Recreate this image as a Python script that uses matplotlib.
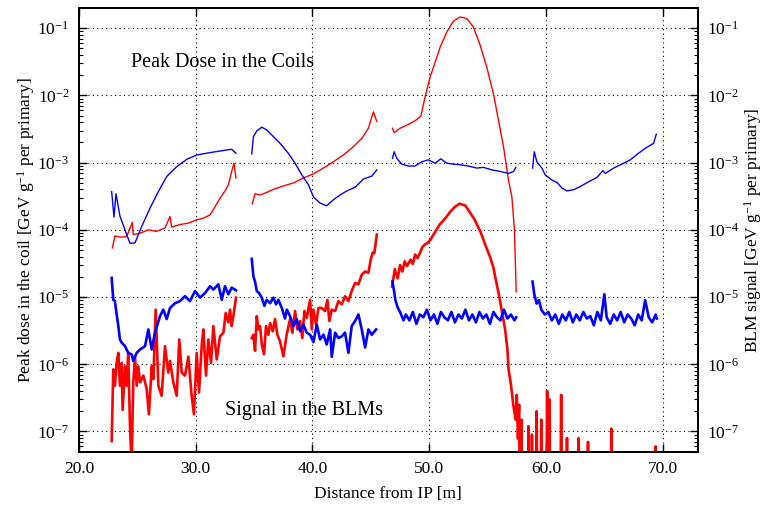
import numpy as np
import matplotlib
matplotlib.use("Agg")
import matplotlib.pyplot as plt
from matplotlib.ticker import LogLocator, FormatStrFormatter

plt.rcParams['font.family'] = 'serif'
plt.rcParams['font.serif'] = ['Liberation Serif', 'DejaVu Serif']
plt.rcParams['mathtext.fontset'] = 'custom'
plt.rcParams['mathtext.rm'] = 'Liberation Serif'
plt.rcParams['mathtext.it'] = 'Liberation Serif:italic'

nan = np.nan

# peak dose in the coils (thin lines), segments split by nan
coil_blue_x = [22.80, 23.00, 23.17, 23.51, 23.94, 24.37, 24.80, 25.37, 26.08, 26.80, 27.51, 28.37, 29.23, 30.09, 31.23, 32.08, 33.08, 33.45, nan,
               34.80, 34.94, 35.23, 35.66, 36.08, 36.65, 37.22, 37.93, 38.51, 39.08, 39.65, 40.08, 40.65, 41.22, 41.79, 42.37, 42.94, 43.65, 44.36, 45.08, 45.51, nan,
               46.85, 47.00, 47.22, 47.65, 48.22, 48.79, 49.36, 49.93, 50.51, 50.99, 51.51, 52.08, 52.65, 53.36, 54.08, 54.65, 55.36, 56.08, 56.79, 57.22, 57.42, nan,
               58.85, 59.00, 59.22, 59.65, 59.93, 60.51, 60.99, 61.36, 61.79, 62.36, 62.93, 63.65, 64.36, 64.88, 65.08, 65.79, 66.50, 67.22, 67.93, 68.50, 69.22, 69.45]
coil_blue_y = [3.7e-4, 1.55e-4, 3.45e-4, 1.6e-4, 1.0e-4, 6.3e-5, 6.4e-5, 1.12e-4, 2.1e-4, 3.7e-4, 6.2e-4, 8.7e-4, 1.12e-3, 1.3e-3, 1.41e-3, 1.49e-3, 1.58e-3, 1.38e-3, nan,
               1.35e-3, 2.44e-3, 2.97e-3, 3.37e-3, 3.07e-3, 2.44e-3, 1.94e-3, 1.38e-3, 9.8e-4, 6.6e-4, 4.7e-4, 3.1e-4, 2.5e-4, 2.28e-4, 2.8e-4, 3.3e-4, 3.8e-4, 4.3e-4, 5.7e-4, 6.3e-4, 7.8e-4, nan,
               1.16e-3, 1.45e-3, 1.16e-3, 9.5e-4, 8.9e-4, 8.9e-4, 1.03e-3, 1.1e-3, 9.8e-4, 1.14e-3, 9.8e-4, 9.5e-4, 9.3e-4, 8.9e-4, 8.3e-4, 8.5e-4, 7.8e-4, 7.4e-4, 6.9e-4, 7.4e-4, 8.5e-4, nan,
               8.3e-4, 1.45e-3, 1.03e-3, 8.3e-4, 6.6e-4, 5.5e-4, 5.0e-4, 4.2e-4, 3.8e-4, 3.95e-4, 4.4e-4, 5.2e-4, 6.0e-4, 7.6e-4, 6.9e-4, 8.3e-4, 9.5e-4, 1.1e-3, 1.38e-3, 1.63e-3, 1.94e-3, 2.65e-3]

coil_red_x = [22.86, 23.08, 23.51, 24.08, 24.57, 24.65, 25.23, 25.94, 26.66, 27.37, 27.80, 27.94, 28.65, 29.37, 30.09, 30.65, 31.23, 31.65, 32.08, 32.51, 32.80, 33.08, 33.28, 33.45, nan,
              34.85, 35.08, 35.51, 36.08, 36.65, 37.51, 38.37, 39.22, 40.08, 40.94, 41.79, 42.65, 43.51, 44.23, 44.79, 45.22, 45.51, nan,
              46.85, 47.00, 47.51, 48.22, 48.79, 49.28, 49.65, 50.08, 50.36, 50.93, 51.51, 52.08, 52.65, 53.22, 53.79, 54.36, 54.94, 55.50, 55.93, 56.36, 56.79, 57.08, 57.30, 57.45]
coil_red_y = [5.4e-5, 8.1e-5, 7.8e-5, 7.9e-5, 1.29e-4, 8.5e-5, 8.9e-5, 1.0e-4, 9.5e-5, 1.07e-4, 1.58e-4, 1.1e-4, 1.2e-4, 1.26e-4, 1.41e-4, 1.49e-4, 1.67e-4, 2.2e-4, 2.95e-4, 3.8e-4, 4.7e-4, 7.4e-4, 9.8e-4, 5.9e-4, nan,
              2.45e-4, 3.45e-4, 3.3e-4, 3.6e-4, 4.0e-4, 4.5e-4, 5.0e-4, 5.9e-4, 6.8e-4, 8.3e-4, 1.03e-3, 1.3e-3, 1.73e-3, 2.3e-3, 3.25e-3, 5.7e-3, 4.1e-3, nan,
              3.25e-3, 2.8e-3, 3.25e-3, 3.7e-3, 4.2e-3, 4.9e-3, 9.5e-3, 0.019, 0.026, 0.052, 0.088, 0.128, 0.147, 0.139, 0.104, 0.056, 0.026, 0.0106, 4.3e-3, 1.73e-3, 5.5e-4, 3.1e-4, 1.0e-4, 1.2e-5]

# signal in the BLMs (thick lines)
blm_blue_x = [22.80, 22.94, 23.08, 23.23, 23.37, 23.51, 23.66, 23.94, 24.22, 24.51, 24.65, 24.94, 25.23, 25.66, 25.94, 26.23, 26.51, 26.94, 27.22, 27.51, 27.80, 28.23, 28.65, 29.08, 29.51, 29.94, 30.37, 30.80, 31.23, 31.51, 31.94, 32.23, 32.51, 32.79, 33.08, 33.45, nan,
              34.80, 34.94, 35.08, 35.23, 35.42, 35.66, 35.88, 36.08, 36.37, 36.65, 36.88, 37.08, 37.37, 37.65, 37.80, 38.08, 38.37, 38.65, 38.94, 39.22, 39.51, 39.80, 40.08, 40.37, 40.65, 40.94, 41.22, 41.51, 41.65, 41.94, 42.22, 42.51, 42.79, 43.08, 43.36, 43.65, 43.94, 44.22, 44.51, 44.79, 45.08, 45.45, nan,
              46.85, 47.0, 47.1, 47.3, 47.5, 47.8, 48.0, 48.3, 48.6, 48.9, 49.2, 49.5, 49.8, 50.1, 50.4, 50.7, 51.0, 51.3, 51.6, 51.9, 52.2, 52.5, 52.8, 53.1, 53.4, 53.7, 54.0, 54.3, 54.6, 54.9, 55.2, 55.5, 55.8, 56.1, 56.4, 56.7, 57.0, 57.3, 57.45, nan,
              58.85, 59.0, 59.2, 59.4, 59.6, 59.9, 60.2, 60.5, 60.8, 61.1, 61.4, 61.7, 62.0, 62.3, 62.6, 62.9, 63.2, 63.5, 63.8, 64.1, 64.4, 64.7, 65.0, 65.2, 65.5, 65.8, 66.1, 66.4, 66.7, 67.0, 67.3, 67.6, 67.9, 68.2, 68.5, 68.8, 69.1, 69.4, 69.5]
blm_blue_y = [1.93e-5, 9.1e-6, 8.7e-6, 5.5e-6, 3.7e-6, 2.34e-6, 2.1e-6, 1.86e-6, 1.48e-6, 1.4e-6, 1.12e-6, 1.48e-6, 1.66e-6, 1.86e-6, 3.3e-6, 1.66e-6, 2.95e-6, 5.2e-6, 6.5e-6, 4.7e-6, 6.9e-6, 8.1e-6, 8.7e-6, 1.03e-5, 8.7e-6, 1.23e-5, 9.8e-6, 1.15e-5, 1.45e-5, 1.29e-5, 1.55e-5, 9.1e-6, 1.45e-5, 1.1e-5, 1.38e-5, 1.26e-5, nan,
              3.7e-5, 2.04e-5, 1.7e-5, 1.23e-5, 1.15e-5, 9.8e-6, 7.4e-6, 9.1e-6, 8.1e-6, 9.8e-6, 7.8e-6, 9.1e-6, 6.9e-6, 4.8e-6, 6.5e-6, 5.2e-6, 3.7e-6, 4.7e-6, 3.1e-6, 3.9e-6, 2.95e-6, 2.75e-6, 2.14e-6, 3.9e-6, 2.34e-6, 2.75e-6, 1.97e-6, 3.3e-6, 1.29e-6, 2.95e-6, 2.45e-6, 2.6e-6, 2.95e-6, 1.48e-6, 3.7e-6, 4.4e-6, 5.5e-6, 3.3e-6, 1.78e-6, 3.3e-6, 2.75e-6, 3.3e-6, nan,
              1.7e-5, 1.2e-5, 9e-6, 7e-6, 6e-6, 4.5e-6, 5.5e-6, 4.5e-6, 6e-6, 4e-6, 5.5e-6, 5e-6, 6.5e-6, 4.5e-6, 5.5e-6, 4e-6, 6e-6, 5e-6, 4.5e-6, 6e-6, 4.2e-6, 5.5e-6, 4.8e-6, 6.5e-6, 4.5e-6, 5.5e-6, 4.2e-6, 6e-6, 4.8e-6, 5.5e-6, 4e-6, 6e-6, 5e-6, 4.5e-6, 6.5e-6, 4.8e-6, 5.5e-6, 4.5e-6, 5e-6, nan,
              1.7e-5, 1.1e-5, 8e-6, 9e-6, 6.5e-6, 5.5e-6, 6e-6, 4.5e-6, 5.5e-6, 4e-6, 5.5e-6, 4.5e-6, 6e-6, 4.2e-6, 5.5e-6, 4.5e-6, 6e-6, 4.8e-6, 5.2e-6, 3.8e-6, 6e-6, 4.5e-6, 1.1e-5, 5e-6, 4e-6, 5.5e-6, 4.5e-6, 6e-6, 4.2e-6, 5.5e-6, 4.8e-6, 3.8e-6, 5.5e-6, 4.5e-6, 9e-6, 5e-6, 4.2e-6, 5.5e-6, 4.8e-6]

blm_red_x = [22.80, 22.94, 23.08, 23.23, 23.37, 23.51, 23.66, 23.74, 23.94, 24.08, 24.22, 24.37, 24.51, 24.65, 24.80, 24.94, 25.08, 25.23, 25.51, 25.80, 25.99, 26.23, 26.37, 26.57, 26.80, 27.08, 27.37, 27.65, 27.80, 28.08, 28.37, 28.59, 28.80, 29.08, 29.37, 29.65, 29.85, 30.08, 30.28, 30.51, 30.65, 30.88, 31.08, 31.31, 31.51, 31.80, 32.08, 32.37, 32.57, 32.80, 32.94, 33.08, 33.22, 33.45, nan,
             34.80, 34.94, 35.08, 35.23, 35.37, 35.51, 35.66, 35.85, 36.02, 36.22, 36.37, 36.60, 36.80, 36.99, 37.22, 37.51, 37.79, 38.08, 38.28, 38.51, 38.71, 38.94, 39.13, 39.31, 39.51, 39.80, 39.94, 40.08, 40.31, 40.51, 40.79, 41.08, 41.28, 41.45, 41.65, 41.94, 42.22, 42.51, 42.79, 43.08, 43.36, 43.65, 43.94, 44.22, 44.51, 44.79, 44.99, 45.16, 45.30, 45.51, nan,
             46.82, 47.05, 47.3, 47.5, 47.7, 47.9, 48.1, 48.4, 48.6, 48.8, 49.0, 49.2, 49.4, 49.6, 49.9, 50.1, 50.5, 50.9, 51.4, 51.8, 52.2, 52.6, 53.1, 53.5, 53.9, 54.4, 54.8, 55.2, 55.5, 55.7, 56.0, 56.2, 56.5, 56.7, 56.8, 57.0, 57.2, 57.4, 57.5, 57.6, 57.7, 57.8, 57.9, 58.0,
             58.4, 58.5, 58.6, 58.7, 58.8, 58.9, 59.1, 59.2, 59.3, 59.5, 59.6, 59.7, 60.0, 60.1, 60.2, 60.3, 60.4, 61.2, 61.3, 61.4, 61.7, 61.8, 61.9, 62.7, 62.8, 62.9, 63.5, 63.6, 63.7, 65.5, 65.6, 65.7, 69.3, 69.4, 69.5]
blm_red_y = [7.2e-8, 8.4e-7, 4.8e-7, 1.05e-6, 1.48e-6, 4.8e-7, 1.05e-6, 2.1e-7, 9.3e-7, 4.8e-7, 1.48e-6, 1.2e-7, 3e-8, 5.4e-7, 1.3e-6, 4.8e-7, 9.3e-7, 5.4e-7, 6.8e-7, 4.3e-7, 1.8e-7, 9.3e-7, 6e-7, 6.5e-6, 4.8e-7, 3.4e-7, 1.86e-6, 7.5e-7, 1.12e-6, 5.4e-7, 3.4e-7, 2.34e-6, 7.5e-7, 6.8e-7, 1.3e-6, 3.4e-7, 1.8e-7, 1.48e-6, 3.8e-7, 1.86e-6, 3.3e-6, 6.8e-7, 2.34e-6, 1.05e-6, 3.7e-6, 1.18e-6, 2.6e-6, 2.95e-6, 5.8e-6, 4.2e-6, 6.5e-6, 3.7e-6, 5.2e-6, 9.8e-6, nan,
             2.45e-6, 2.75e-6, 1.59e-6, 5.2e-6, 3.3e-6, 3.7e-6, 1.97e-6, 1.41e-6, 3.7e-6, 2.75e-6, 4.1e-6, 3.1e-6, 4.7e-6, 2.75e-6, 2.2e-6, 1.31e-6, 2.75e-6, 4.7e-6, 2.95e-6, 6.2e-6, 3.3e-6, 4.4e-6, 2.45e-6, 6.2e-6, 4.9e-6, 9.1e-6, 3.3e-6, 6.5e-6, 3.9e-6, 6.9e-6, 6.9e-6, 6.2e-6, 9.1e-6, 4.4e-6, 6.5e-6, 6.2e-6, 8.7e-6, 7.8e-6, 1.03e-5, 8.7e-6, 1.23e-5, 1.62e-5, 1.55e-5, 2.15e-5, 2.4e-5, 2.3e-5, 3.6e-5, 4.6e-5, 4.5e-5, 8.5e-5, nan,
             1.43e-5, 2.6e-5, 1.9e-5, 3.0e-5, 2.4e-5, 3.4e-5, 2.9e-5, 3.6e-5, 3.1e-5, 4.3e-5, 3.8e-5, 4.5e-5, 5.5e-5, 6.0e-5, 6.5e-5, 7.1e-5, 9.3e-5, 1.2e-4, 1.5e-4, 1.86e-4, 2.2e-4, 2.45e-4, 2.3e-4, 1.8e-4, 1.41e-4, 9.3e-5, 6.0e-5, 4.0e-5, 2.75e-5, 1.82e-5, 1.02e-5, 6.5e-6, 3.3e-6, 1.66e-6, 8.3e-7, 5.0e-7, 2.5e-7, 1.5e-7, 3.5e-7, 7.8e-8, 2.5e-7, 1e-9, 1.5e-7, 1e-9,
             1e-9, 1.2e-7, 1e-9, 1e-9, 9e-8, 1e-9, 1e-9, 2e-7, 1e-9, 1e-9, 1.5e-7, 1e-9, 1e-9, 4e-7, 1e-9, 3e-7, 1e-9, 1e-9, 3.5e-7, 1e-9, 1e-9, 8e-8, 1e-9, 1e-9, 8e-8, 1e-9, 1e-9, 7e-8, 1e-9, 1e-9, 1.1e-7, 1e-9, 1e-9, 6e-8, 1e-9]

x_ticks = [20, 30, 40, 50, 60, 70]
y_ticks = [1e-7, 1e-6, 1e-5, 1e-4, 1e-3, 1e-2, 1e-1]

fig = plt.figure(figsize=(7.72, 5.05), dpi=100)
ax = fig.add_axes([0.1023, 0.1055, 0.8015, 0.8787])

ax.plot(coil_red_x, coil_red_y, color='#ff0000', lw=1.0)
ax.plot(coil_blue_x, coil_blue_y, color='#0000ff', lw=1.0)
ax.plot(blm_red_x, blm_red_y, color='#ff0000', lw=1.9)
ax.plot(blm_blue_x, blm_blue_y, color='#0000ff', lw=1.9)

ax.set_yscale('log')
ax.set_xlim(20, 73)
ax.set_ylim(5e-8, 0.2)
ax.set_xticks(x_ticks)
ax.xaxis.set_major_formatter(FormatStrFormatter('%.1f'))
ax.set_yticks(y_ticks)
ax.yaxis.set_minor_locator(LogLocator(base=10, subs=np.arange(2, 10), numticks=20))

ax.grid(True, which='major', color='black', linestyle=(0, (1, 3)), lw=0.8)
ax.tick_params(axis='both', which='major', direction='in', length=6, width=1.0,
               labelsize=12.5, top=True, right=False, pad=7)
ax.tick_params(axis='y', which='minor', direction='in', length=3, width=0.8,
               right=False, labelleft=False)
for s in ax.spines.values():
    s.set_linewidth(1.4)

ax.set_xlabel('Distance from IP [m]', fontsize=12.5, labelpad=6)
ax.set_ylabel('Peak dose in the coil [GeV g$^{-1}$ per primary]', fontsize=12.5, labelpad=0)

# right hand axis for the BLM signal, same scale
ax2 = ax.twinx()
ax2.set_yscale('log')
ax2.set_ylim(ax.get_ylim())
ax2.set_yticks(y_ticks)
ax2.yaxis.set_minor_locator(LogLocator(base=10, subs=np.arange(2, 10), numticks=20))
ax2.tick_params(axis='y', which='major', direction='in', length=6, width=1.0, labelsize=12.5, pad=7)
ax2.tick_params(axis='y', which='minor', direction='in', length=3, width=0.8, labelright=False)
ax2.set_ylabel('BLM signal [GeV g$^{-1}$ per primary]', fontsize=12.5, labelpad=2)
for s in ax2.spines.values():
    s.set_linewidth(1.4)

ax.text(24.46, 0.031, 'Peak Dose in the Coils', fontsize=14.5, ha='left', va='center')
ax.text(32.51, 2.07e-7, 'Signal in the BLMs', fontsize=14.5, ha='left', va='center')

fig.savefig('out.png', dpi=100)
